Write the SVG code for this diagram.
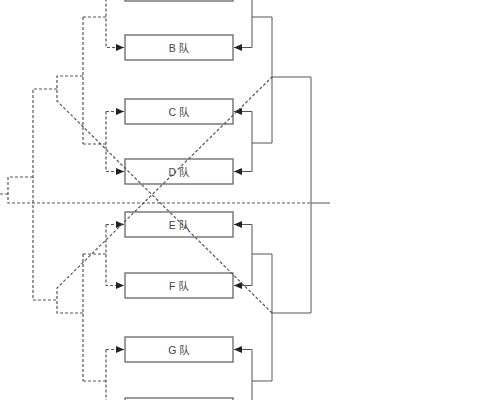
<svg xmlns="http://www.w3.org/2000/svg" width="485" height="400" viewBox="0 0 485 400">
<defs>
<marker id="ah" markerWidth="9" markerHeight="9" refX="8" refY="4.5" orient="auto" markerUnits="userSpaceOnUse">
<path d="M0,1 L8,4.5 L0,8 Z" fill="#222"/>
</marker>
<style>
.box{fill:#fff;stroke:#666;stroke-width:1.3}
.lbl{font-family:"Liberation Sans","Noto Sans CJK SC",sans-serif;font-size:10.5px;fill:#444;text-anchor:middle;dominant-baseline:central}
.sol{fill:none;stroke:#555;stroke-width:1}
.dsh{fill:none;stroke:#555;stroke-width:1.2;stroke-dasharray:3,2}
</style>
</defs>
<rect width="485" height="400" fill="#fff"/>
<g id="nodeA"><rect class="box" x="125" y="-24" width="108" height="25"/></g>
<g id="nodeB"><rect class="box" x="125" y="35" width="108" height="25"/><text class="lbl" x="179" y="47.5">B 队</text></g>
<g id="nodeC"><rect class="box" x="125" y="99" width="108" height="25"/><text class="lbl" x="179" y="111.5">C 队</text></g>
<g id="nodeD"><rect class="box" x="125" y="159" width="108" height="25"/><text class="lbl" x="179" y="171.5">D 队</text></g>
<g id="nodeE"><rect class="box" x="125" y="212" width="108" height="25"/><text class="lbl" x="179" y="224.5">E 队</text></g>
<g id="nodeF"><rect class="box" x="125" y="273" width="108" height="25"/><text class="lbl" x="179" y="285.5">F 队</text></g>
<g id="nodeG"><rect class="box" x="125" y="337" width="108" height="25"/><text class="lbl" x="179" y="349.5">G 队</text></g>
<g id="nodeH"><rect class="box" x="125" y="398" width="108" height="25"/></g>
<g id="connectors">
<path class="sol" d="M252,-11.5 V47.5 H234" marker-end="url(#ah)"/>
<path class="sol" d="M252,17 H272"/>
<path class="sol" d="M252,111.5 V171.5 H234" marker-end="url(#ah)"/>
<path class="sol" d="M252,111.5 H234" marker-end="url(#ah)"/>
<path class="sol" d="M252,143 H272"/>
<path class="sol" d="M252,224.5 V285.5 H234" marker-end="url(#ah)"/>
<path class="sol" d="M252,224.5 H234" marker-end="url(#ah)"/>
<path class="sol" d="M252,254 H272"/>
<path class="sol" d="M252,349.5 V410.5"/>
<path class="sol" d="M252,349.5 H234" marker-end="url(#ah)"/>
<path class="sol" d="M252,381 H272"/>
<path class="sol" d="M272,17 V143 M272,77 H311"/>
<path class="sol" d="M272,254 V381 M272,313 H311"/>
<path class="sol" d="M311,77 V313 M311,203 H330"/>
<path class="dsh" d="M106,-11.5 V47.5 H124" marker-end="url(#ah)"/>
<path class="dsh" d="M83,17 H106"/>
<path class="dsh" d="M106,111.5 V171.5 H124" marker-end="url(#ah)"/>
<path class="dsh" d="M106,111.5 H124" marker-end="url(#ah)"/>
<path class="dsh" d="M83,144 H106"/>
<path class="dsh" d="M106,224.5 V285.5 H124" marker-end="url(#ah)"/>
<path class="dsh" d="M106,224.5 H124" marker-end="url(#ah)"/>
<path class="dsh" d="M83,254 H106"/>
<path class="dsh" d="M106,349.5 V410.5"/>
<path class="dsh" d="M106,349.5 H124" marker-end="url(#ah)"/>
<path class="dsh" d="M83,381 H106"/>
<path class="dsh" d="M83,17 V144 M83,76 H57 V101 L272,313"/>
<path class="dsh" d="M83,254 V381 M83,313 H57 V288 L272,77"/>
<path class="dsh" d="M57,89 H33 V300 H57"/>
<path class="dsh" d="M33,177 H8 V203 H311"/>
<path class="dsh" d="M0,194 H8"/>
</g>
</svg>
